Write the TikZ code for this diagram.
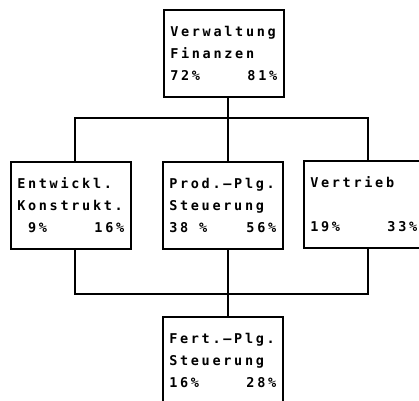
\documentclass[tikz,border=0pt]{standalone}
\usepackage{fontspec}
\newfontfamily\plotfont[LetterSpace=20]{DejaVu Sans Mono Bold}
\usetikzlibrary{calc}

\tikzset{
  unit/.style={draw,line width=1.5pt,rectangle,anchor=north west,
    minimum width=120pt,minimum height=87pt,inner xsep=6.5pt,
    text width=107pt,align=left,
    font=\plotfont\fontsize{13.5}{22}\selectfont},
  link/.style={line width=1.5pt,line cap=rect}
}
\newcommand{\quota}[2]{\hbox to 107pt{#1\hfill #2}}
% 一个字符宽的空格
\newcommand{\blank}{\hspace*{10.9pt}}

\begin{document}
\begin{tikzpicture}[x=1pt,y=-1pt]
  \useasboundingbox (0,0) rectangle (419,400);

  % 上层与三个部门
  \node[unit] (verw) at (163,9)   {Verwaltung\\Finanzen\\\quota{72\%}{81\%}};
  \node[unit] (entw) at (10,161)  {Entwickl.\\Konstrukt.\\\quota{\blank 9\%}{16\%}};
  \node[unit] (prod) at (162,161) {Prod.–Plg.\\Steuerung\\\quota{38\blank\%}{56\%}};
  \node[unit] (vert) at (303,160) {Vertrieb\\~\\\quota{19\%}{33\%}};
  \node[unit] (fert) at (162,316) {Fert.–Plg.\\Steuerung\\\quota{16\%}{28\%}};

  % 两条横线
  \coordinate (busL) at (75,118);
  \coordinate (busM) at (228,118);
  \coordinate (busR) at (368,118);
  \coordinate (lowL) at (75,294);
  \coordinate (lowM) at (228,294);
  \coordinate (lowR) at (368,294);

  \draw[link] (verw.south -| busM) -- (busM);
  \draw[link] (entw.north -| busL) -- (busL) -- (busR) -- (vert.north -| busR);
  \draw[link] (busM) -- (prod.north -| busM);

  \draw[link] (entw.south -| lowL) -- (lowL) -- (lowR) -- (vert.south -| lowR);
  \draw[link] (prod.south -| lowM) -- (fert.north -| lowM);
\end{tikzpicture}
\end{document}
